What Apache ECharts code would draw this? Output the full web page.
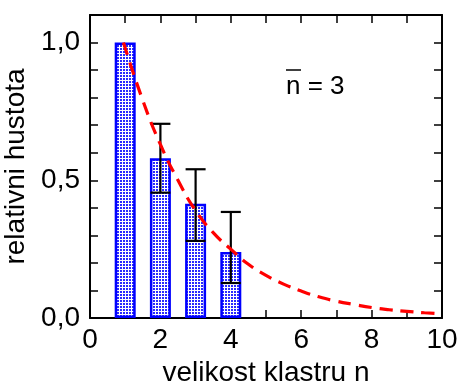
<!DOCTYPE html>
<html>
<head>
<meta charset="utf-8">
<script src="https://cdn.jsdelivr.net/npm/echarts@6/dist/echarts.min.js"></script>
<style>
  html, body { margin: 0; padding: 0; background: #fff; }
  #chart { width: 459px; height: 381px; }
</style>
</head>
<body>
<div id="chart"></div>
<script>
// Cluster sizes and their relative density
const clusterSizes = [1, 2, 3, 4];
const densities = [1.0, 0.58, 0.415, 0.24];

// Error bars (lower / upper limits) for sizes 2..4
const errSizes = [2, 3, 4];
const errLow = [0.455, 0.28, 0.127];
const errHigh = [0.705, 0.54, 0.385];

// Model curve for mean cluster size n = 3
const curveX = [0.95, 1.5, 2, 2.5, 3, 3.5, 4, 4.5, 5, 5.5, 6, 6.5, 7, 7.5, 8, 8.5, 9, 9.5, 10];
const curveY = [1.0, 0.79, 0.63, 0.50, 0.39, 0.31, 0.25, 0.195, 0.155, 0.123, 0.098, 0.077, 0.061, 0.049, 0.038, 0.030, 0.024, 0.019, 0.015];

// Axis tick labels
const xTickLabels = ['0', '2', '4', '6', '8', '10'];
const yTickLabels = ['0,0', '0,5', '1,0'];

// Dotted fill for the bars
function dotPattern() {
  const c = document.createElement('canvas');
  c.width = 3; c.height = 3;
  const g = c.getContext('2d');
  g.fillStyle = '#ffffff';
  g.fillRect(0, 0, 3, 3);
  g.fillStyle = '#2a2aff';
  g.fillRect(0, 0, 2, 2);
  return c;
}

const FONT = 'Liberation Sans, Arial, sans-serif';
const chart = echarts.init(document.getElementById('chart'), null, { renderer: 'canvas' });

function xLabel(v) {
  const s = String(Math.round(v));
  return xTickLabels.indexOf(s) >= 0 && Math.abs(v - Math.round(v)) < 1e-6 ? s : '';
}
function yLabel(v) {
  const s = (Math.round(v * 10) / 10).toFixed(1).replace('.', ',');
  return yTickLabels.indexOf(s) >= 0 && Math.abs(v * 2 - Math.round(v * 2)) < 1e-6 ? s : '';
}

const tickStyle = { show: true, inside: true, length: 8, lineStyle: { color: '#000', width: 1.5 } };
const lineStyle = { show: true, onZero: false, lineStyle: { color: '#000', width: 2 } };

chart.setOption({
  animation: false,
  backgroundColor: '#fff',
  grid: { left: 90, right: 17, top: 15, bottom: 63, containLabel: false, outerBoundsMode: 'none' },
  xAxis: [
    {
      type: 'value', min: 0, max: 10, interval: 1, position: 'bottom',
      axisLine: lineStyle, axisTick: tickStyle, splitLine: { show: false },
      axisLabel: { formatter: xLabel, color: '#000', fontSize: 28, fontFamily: FONT, margin: 8 },
      name: 'velikost klastru n', nameLocation: 'middle', nameGap: 35,
      nameTextStyle: { color: '#000', fontSize: 28, fontFamily: FONT }
    },
    {
      type: 'value', min: 0, max: 10, interval: 1, position: 'top',
      axisLine: lineStyle, axisTick: tickStyle, splitLine: { show: false },
      axisLabel: { show: false }
    }
  ],
  yAxis: [
    {
      type: 'value', min: 0, max: 1.1, interval: 0.1, position: 'left',
      axisLine: lineStyle, axisTick: tickStyle, splitLine: { show: false },
      axisLabel: { formatter: yLabel, color: '#000', fontSize: 28, fontFamily: FONT, margin: 10 },
      name: 'relativni hustota', nameLocation: 'middle', nameGap: 52,
      nameTextStyle: { color: '#000', fontSize: 28, fontFamily: FONT }
    },
    {
      type: 'value', min: 0, max: 1.1, interval: 0.1, position: 'right',
      axisLine: lineStyle, axisTick: tickStyle, splitLine: { show: false },
      axisLabel: { show: false }
    }
  ],
  series: [
    {
      type: 'bar',
      data: clusterSizes.map((n, i) => [n, densities[i]]),
      barWidth: 21,
      itemStyle: {
        color: { image: dotPattern(), repeat: 'repeat' },
        borderColor: '#0000ff', borderWidth: 2.5
      },
      z: 2
    },
    {
      type: 'custom',
      data: errSizes.map((n, i) => [n, errLow[i], errHigh[i]]),
      renderItem: function (params, api) {
        const lo = api.coord([api.value(0), api.value(1)]);
        const hi = api.coord([api.value(0), api.value(2)]);
        const half = 10;
        const st = { stroke: '#000', lineWidth: 2.2 };
        return {
          type: 'group',
          children: [
            { type: 'line', shape: { x1: lo[0], y1: lo[1], x2: hi[0], y2: hi[1] }, style: st },
            { type: 'line', shape: { x1: lo[0] - half, y1: lo[1], x2: lo[0] + half, y2: lo[1] }, style: st },
            { type: 'line', shape: { x1: hi[0] - half, y1: hi[1], x2: hi[0] + half, y2: hi[1] }, style: st }
          ]
        };
      },
      z: 3
    },
    {
      type: 'line',
      data: curveX.map((x, i) => [x, curveY[i]]),
      smooth: true,
      symbol: 'none',
      lineStyle: { color: '#ff0000', width: 3.2, type: [13, 8] },
      z: 4
    }
  ],
  graphic: [
    {
      type: 'text', left: 286, top: 74,
      style: { text: 'n = 3', fill: '#000', fontSize: 26, fontFamily: FONT }
    },
    {
      type: 'line', shape: { x1: 286, y1: 70, x2: 301, y2: 70 },
      style: { stroke: '#000', lineWidth: 1.5 }
    }
  ]
});
</script>
</body>
</html>
